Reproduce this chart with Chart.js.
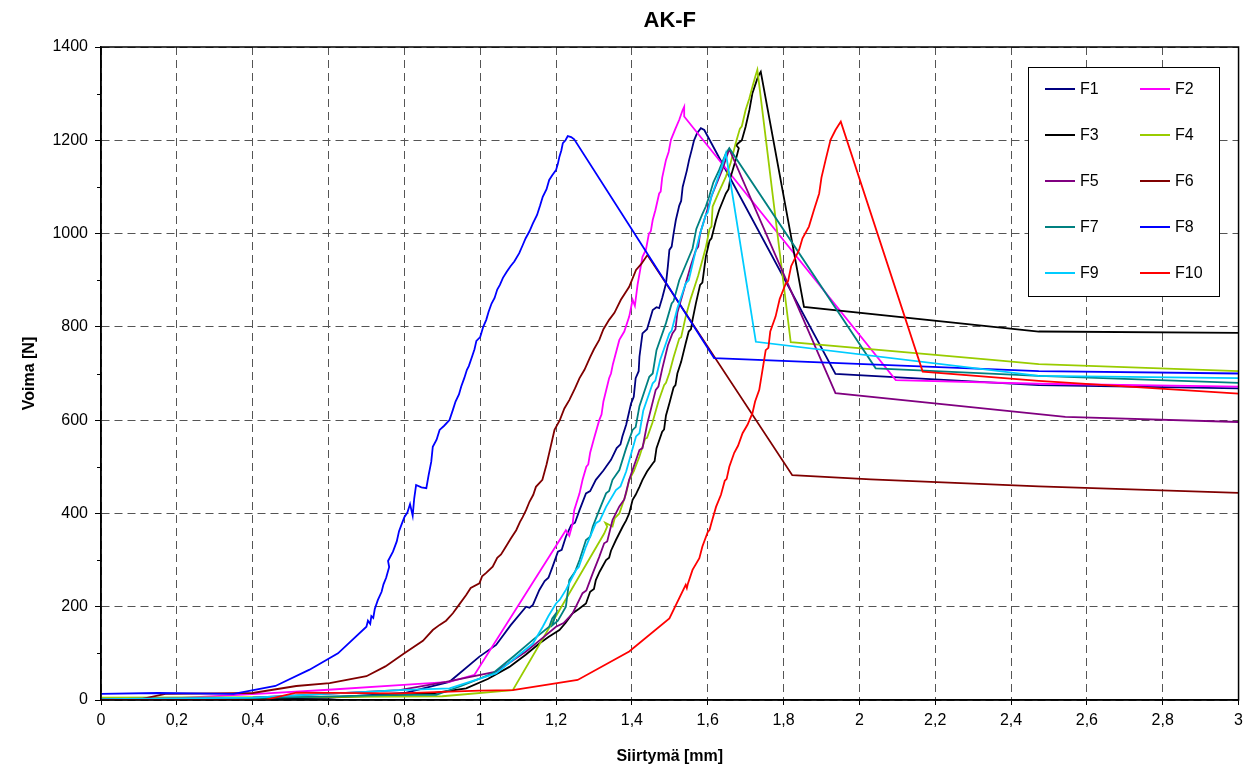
<!DOCTYPE html>
<html>
<head>
<meta charset="utf-8">
<script src="https://cdn.jsdelivr.net/npm/chart.js@4.4.1/dist/chart.umd.min.js"></script>
<style>
  html, body { margin: 0; padding: 0; background: #fff; }
  #wrap { width: 1249px; height: 770px; }
</style>
</head>
<body>
<div id="wrap"><canvas id="ak_f"></canvas></div>
<script>
// measured curves, [Siirtymä mm, Voima N]
const seriesNames = ['F1', 'F2', 'F3', 'F4', 'F5', 'F6', 'F7', 'F8', 'F9', 'F10'];
const seriesColors = ['#000080', '#FF00FF', '#000000', '#99CC00', '#800080',
                      '#800000', '#008080', '#0000FF', '#00CCFF', '#FF0000'];

const xTicks = [0, 0.2, 0.4, 0.6, 0.8, 1, 1.2, 1.4, 1.6, 1.8, 2, 2.2, 2.4, 2.6, 2.8, 3];
const xTickLabels = ['0', '0,2', '0,4', '0,6', '0,8', '1', '1,2', '1,4', '1,6', '1,8',
                     '2', '2,2', '2,4', '2,6', '2,8', '3'];
const yTicks = [0, 200, 400, 600, 800, 1000, 1200, 1400];
const yTickLabels = ['0', '200', '400', '600', '800', '1000', '1200', '1400'];
const yMinorTicks = [100, 300, 500, 700, 900, 1100, 1300];

const f1 = [[0,0],[0.3,2],[0.6,5],[0.8,15],[0.919,39],[0.998,93],[1.042,118],[1.08,160],[1.121,200],
  [1.13,198],[1.139,204],[1.156,236],[1.17,255],[1.18,262],[1.191,286],[1.205,318],[1.215,322],[1.226,350],
  [1.24,375],[1.25,380],[1.262,407],[1.279,443],[1.29,448],[1.305,472],[1.325,492],[1.345,515],[1.36,540],
  [1.37,548],[1.375,565],[1.385,590],[1.398,636],[1.405,650],[1.41,690],[1.418,705],[1.42,736],[1.428,786],
  [1.44,795],[1.455,836],[1.465,842],[1.472,840],[1.48,862],[1.49,893],[1.495,930],[1.499,965],
  [1.505,972],[1.51,1000],[1.516,1029],[1.525,1060],[1.53,1070],[1.534,1100],[1.545,1135],[1.551,1158],
  [1.558,1180],[1.564,1200],[1.572,1215],[1.582,1226],[1.591,1222],[1.937,699],[2.473,675],[3,668]];

const f2 = [[0,3],[0.2,4],[0.436,14],[0.6,22],[0.787,32],[0.919,39],[0.985,54],[1.226,364],[1.235,352],
  [1.244,379],[1.248,407],[1.262,443],[1.27,472],[1.28,500],[1.285,505],[1.29,530],[1.3,560],[1.314,600],
  [1.32,612],[1.325,640],[1.34,690],[1.345,700],[1.35,720],[1.367,772],[1.38,790],[1.393,822],
  [1.402,858],[1.408,845],[1.415,890],[1.428,950],[1.437,965],[1.445,1000],[1.45,1005],[1.455,1029],
  [1.462,1050],[1.472,1086],[1.476,1090],[1.48,1120],[1.49,1158],[1.497,1175],[1.503,1201],
  [1.515,1225],[1.525,1244],[1.534,1265],[1.538,1272],[1.538,1251],[2.096,686],[2.473,678],[3,672]];

const f3 = [[0,3],[0.3,3],[0.6,5],[0.787,11],[0.88,15],[0.963,25],[1.02,45],[1.077,71],[1.12,97],
  [1.156,121],[1.18,135],[1.209,150],[1.225,165],[1.244,186],[1.26,195],[1.279,207],[1.29,232],[1.3,238],
  [1.305,257],[1.315,275],[1.332,300],[1.34,305],[1.345,320],[1.358,343],[1.376,372],[1.385,385],
  [1.393,400],[1.402,429],[1.41,440],[1.42,457],[1.428,472],[1.44,490],[1.455,507],[1.46,512],[1.465,540],
  [1.48,575],[1.485,580],[1.49,610],[1.499,636],[1.51,670],[1.515,675],[1.52,700],[1.53,725],[1.542,765],
  [1.55,790],[1.556,795],[1.56,815],[1.569,851],[1.58,890],[1.586,895],[1.595,950],[1.605,985],
  [1.61,990],[1.622,1029],[1.63,1050],[1.648,1086],[1.655,1095],[1.66,1120],[1.674,1158],[1.682,1183],
  [1.675,1190],[1.69,1200],[1.70,1229],[1.71,1265],[1.718,1301],[1.73,1330],[1.735,1340],[1.74,1347],
  [1.854,843],[2.473,790],[3,787]];

const f4 = [[0,5],[0.5,6],[0.9,8],[1.086,21],[1.327,357],[1.335,372],[1.33,380],[1.349,372],[1.355,390],
  [1.367,400],[1.385,443],[1.393,472],[1.405,490],[1.42,522],[1.435,560],[1.44,562],[1.454,594],
  [1.47,640],[1.485,675],[1.49,680],[1.499,701],[1.51,735],[1.525,775],[1.53,778],[1.542,822],
  [1.555,860],[1.565,885],[1.575,910],[1.586,943],[1.595,970],[1.605,1010],[1.61,1015],[1.613,1058],
  [1.63,1090],[1.648,1122],[1.66,1150],[1.674,1194],[1.685,1225],[1.69,1230],[1.70,1265],[1.71,1290],
  [1.718,1315],[1.725,1335],[1.731,1351],[1.819,767],[2.35,729],[2.473,720],[3,705]];

const f5 = [[0,2],[0.4,5],[0.787,21],[0.91,39],[1.042,61],[1.121,104],[1.16,130],[1.20,157],[1.22,165],
  [1.244,186],[1.27,229],[1.28,235],[1.297,272],[1.314,307],[1.327,336],[1.335,340],[1.349,386],
  [1.367,415],[1.38,430],[1.393,472],[1.42,536],[1.428,540],[1.44,590],[1.463,665],[1.47,672],
  [1.48,710],[1.495,760],[1.507,786],[1.515,795],[1.52,830],[1.542,893],[1.555,930],[1.569,965],
  [1.575,972],[1.58,1000],[1.595,1040],[1.61,1080],[1.625,1110],[1.64,1140],[1.65,1165],
  [1.657,1181],[1.937,658],[2.473,613],[2.543,607],[3,596]];

const f6 = [[0,0],[0.1,1],[0.17,13],[0.3,14],[0.4,15],[0.515,30],[0.603,36],[0.70,51],[0.75,72],
  [0.80,100],[0.849,127],[0.875,150],[0.893,161],[0.91,170],[0.928,186],[0.945,205],[0.963,225],
  [0.975,240],[0.998,250],[1.005,265],[1.015,272],[1.033,286],[1.045,305],[1.055,312],[1.068,329],
  [1.08,345],[1.095,364],[1.105,382],[1.112,392],[1.121,407],[1.13,425],[1.14,440],[1.147,457],
  [1.164,472],[1.175,505],[1.185,540],[1.196,579],[1.21,600],[1.222,625],[1.235,643],[1.25,668],
  [1.262,690],[1.275,708],[1.29,735],[1.30,752],[1.314,772],[1.325,795],[1.34,815],[1.354,830],
  [1.371,858],[1.393,886],[1.411,922],[1.425,935],[1.441,954],[1.823,482],[2.03,473],[2.473,458],[3,444]];

const f7 = [[0,1],[0.4,4],[0.787,11],[0.884,11],[0.95,30],[1.033,57],[1.09,95],[1.139,129],[1.182,157],
  [1.19,175],[1.2,186],[1.19,160],[1.205,170],[1.226,200],[1.235,257],[1.25,275],[1.262,300],[1.279,343],
  [1.29,350],[1.297,372],[1.314,407],[1.332,443],[1.34,448],[1.349,472],[1.367,493],[1.385,540],
  [1.402,579],[1.41,585],[1.42,630],[1.446,693],[1.455,700],[1.465,750],[1.49,808],[1.505,850],
  [1.51,855],[1.525,900],[1.56,968],[1.57,1010],[1.585,1040],[1.595,1058],[1.604,1080],[1.615,1110],
  [1.63,1136],[1.648,1172],[1.657,1183],[2.043,711],[2.473,695],[3,680]];

const f8 = [[0,13],[0.15,15],[0.35,13],[0.46,30],[0.55,65],[0.625,100],[0.70,157],[0.704,170],
  [0.71,163],[0.713,180],[0.718,176],[0.722,195],[0.73,214],[0.74,232],[0.745,248],[0.752,262],
  [0.76,285],[0.757,298],[0.77,318],[0.78,340],[0.786,362],[0.792,375],[0.80,392],[0.808,402],
  [0.815,420],[0.822,395],[0.826,432],[0.831,461],[0.845,456],[0.858,454],[0.864,482],[0.871,511],
  [0.875,543],[0.885,558],[0.893,579],[0.905,588],[0.919,600],[0.928,622],[0.935,640],[0.944,655],
  [0.95,672],[0.958,690],[0.965,708],[0.97,716],[0.978,735],[0.985,752],[0.99,770],[1.0,778],
  [1.008,800],[1.016,815],[1.022,832],[1.03,850],[1.038,862],[1.045,880],[1.052,890],[1.06,905],
  [1.07,918],[1.08,930],[1.09,940],[1.103,958],[1.112,975],[1.12,990],[1.13,1005],[1.139,1022],
  [1.15,1040],[1.158,1060],[1.165,1079],[1.175,1095],[1.182,1115],[1.19,1125],[1.20,1136],
  [1.205,1150],[1.209,1165],[1.214,1178],[1.218,1194],[1.225,1200],[1.231,1209],[1.24,1207],
  [1.248,1202],[1.617,733],[2.473,705],[3,700]];

const f9 = [[0,2],[0.4,5],[0.787,21],[0.919,25],[1.042,57],[1.139,121],[1.165,157],[1.18,180],
  [1.20,207],[1.21,215],[1.226,236],[1.253,279],[1.26,285],[1.279,329],[1.305,379],[1.315,384],
  [1.332,414],[1.358,450],[1.37,458],[1.385,490],[1.411,565],[1.42,572],[1.43,620],[1.455,679],
  [1.462,685],[1.475,730],[1.499,786],[1.505,792],[1.52,840],[1.542,893],[1.55,900],[1.569,965],
  [1.58,1000],[1.595,1040],[1.6,1045],[1.61,1080],[1.625,1115],[1.64,1150],[1.648,1172],
  [1.727,768],[2.473,695],[3,690]];

const f10 = [[0,0],[0.3,0],[0.436,1],[0.515,16],[0.787,14],[0.998,20],[1.086,21],[1.257,43],[1.393,104],
  [1.499,175],[1.542,247],[1.545,240],[1.548,250],[1.56,279],[1.578,304],[1.586,329],[1.60,360],
  [1.605,365],[1.61,380],[1.622,414],[1.635,440],[1.645,470],[1.65,474],[1.657,500],[1.67,530],
  [1.68,545],[1.692,572],[1.705,590],[1.718,615],[1.725,640],[1.736,665],[1.745,710],[1.753,750],
  [1.76,755],[1.765,790],[1.779,822],[1.79,860],[1.806,893],[1.812,898],[1.82,930],[1.841,965],
  [1.85,990],[1.867,1015],[1.88,1050],[1.894,1086],[1.90,1120],[1.911,1158],[1.924,1201],[1.937,1222],
  [1.951,1240],[2.167,704],[2.473,684],[3,657]];

const allSeries = [f1, f2, f3, f4, f5, f6, f7, f8, f9, f10];
const fontFam = '"Liberation Sans", Arial, sans-serif';

// frame round the plot area + the small y ticks
const framePlugin = {
  id: 'frame',
  afterDatasetsDraw(chart) {
    const {ctx, chartArea: a, scales: {y}} = chart;
    ctx.save();
    ctx.strokeStyle = '#000';
    ctx.lineWidth = 1.5;
    ctx.strokeRect(a.left, a.top, a.right - a.left, a.bottom - a.top);
    ctx.lineWidth = 1;
    yMinorTicks.forEach(v => {
      const py = Math.round(y.getPixelForValue(v)) + 0.5;
      ctx.beginPath();
      ctx.moveTo(a.left - 4, py);
      ctx.lineTo(a.left, py);
      ctx.stroke();
    });
    ctx.restore();
  }
};

// two-column legend box top right
const boxLegend = {
  id: 'boxLegend',
  afterDraw(chart) {
    const ctx = chart.ctx;
    const bx = 1028, by = 67, bw = 191, bh = 229;
    ctx.save();
    ctx.fillStyle = '#fff';
    ctx.fillRect(bx, by, bw, bh);
    ctx.strokeStyle = '#000';
    ctx.lineWidth = 1;
    ctx.strokeRect(bx + 0.5, by + 0.5, bw, bh);
    ctx.font = '16px ' + fontFam;
    ctx.textBaseline = 'middle';
    chart.data.datasets.forEach((ds, i) => {
      const col = i % 2, row = Math.floor(i / 2);
      const lx = col === 0 ? 1045 : 1140;
      const ly = 89 + row * 46;
      ctx.strokeStyle = ds.borderColor;
      ctx.lineWidth = 2;
      ctx.beginPath();
      ctx.moveTo(lx, ly);
      ctx.lineTo(lx + 30, ly);
      ctx.stroke();
      ctx.fillStyle = '#000';
      ctx.fillText(ds.label, lx + 35, ly + 1);
    });
    ctx.restore();
  }
};

const akChart = new Chart(document.getElementById('ak_f'), {
  type: 'scatter',
  data: {
    datasets: allSeries.map((pts, i) => ({
      label: seriesNames[i],
      data: pts.map(p => ({x: p[0], y: p[1]})),
      showLine: true,
      borderColor: seriesColors[i],
      backgroundColor: seriesColors[i],
      borderWidth: 1.8,
      pointRadius: 0,
      tension: 0,
      order: seriesNames.length - i
    }))
  },
  options: {
    responsive: true,
    maintainAspectRatio: false,
    animation: false,
    layout: { padding: { left: 16, right: 9, top: 0, bottom: 0 } },
    plugins: {
      legend: { display: false },
      tooltip: { enabled: false },
      title: {
        display: true,
        text: 'AK-F',
        fullSize: false,
        color: '#000',
        font: { family: fontFam, size: 22, weight: 'bold' },
        padding: { top: 8, bottom: 12.6 }
      }
    },
    scales: {
      x: {
        type: 'linear',
        min: 0,
        max: 3,
        afterFit: s => { s.height = 70; },
        afterBuildTicks: s => { s.ticks = xTicks.map(v => ({value: v})); },
        ticks: {
          color: '#000',
          font: { family: fontFam, size: 16 },
          padding: 6,
          maxRotation: 0,
          callback: (v, i) => xTickLabels[i]
        },
        grid: {
          color: '#555',
          lineWidth: 1,
          tickColor: '#000',
          tickLength: 5,
          tickBorderDash: [],
          tickWidth: 1
        },
        border: { display: true, color: '#000', width: 1.5, dash: [8, 5] },
        title: {
          display: true,
          text: 'Siirtymä [mm]',
          color: '#000',
          font: { family: fontFam, size: 16, weight: 'bold' },
          padding: { top: 4, bottom: 4 }
        }
      },
      y: {
        type: 'linear',
        min: 0,
        max: 1400,
        afterFit: s => { s.width = 85; },
        afterBuildTicks: s => { s.ticks = yTicks.map(v => ({value: v})); },
        ticks: {
          color: '#000',
          font: { family: fontFam, size: 16 },
          padding: 7,
          callback: (v, i) => yTickLabels[i]
        },
        grid: {
          color: '#555',
          lineWidth: 1,
          tickColor: '#000',
          tickLength: 6,
          tickBorderDash: [],
          tickWidth: 1
        },
        border: { display: true, color: '#000', width: 1.5, dash: [8, 5] },
        title: {
          display: true,
          text: 'Voima [N]',
          color: '#000',
          font: { family: fontFam, size: 16, weight: 'bold' },
          padding: { top: 4, bottom: 4 }
        }
      }
    }
  },
  plugins: [framePlugin, boxLegend]
});
</script>
</body>
</html>
